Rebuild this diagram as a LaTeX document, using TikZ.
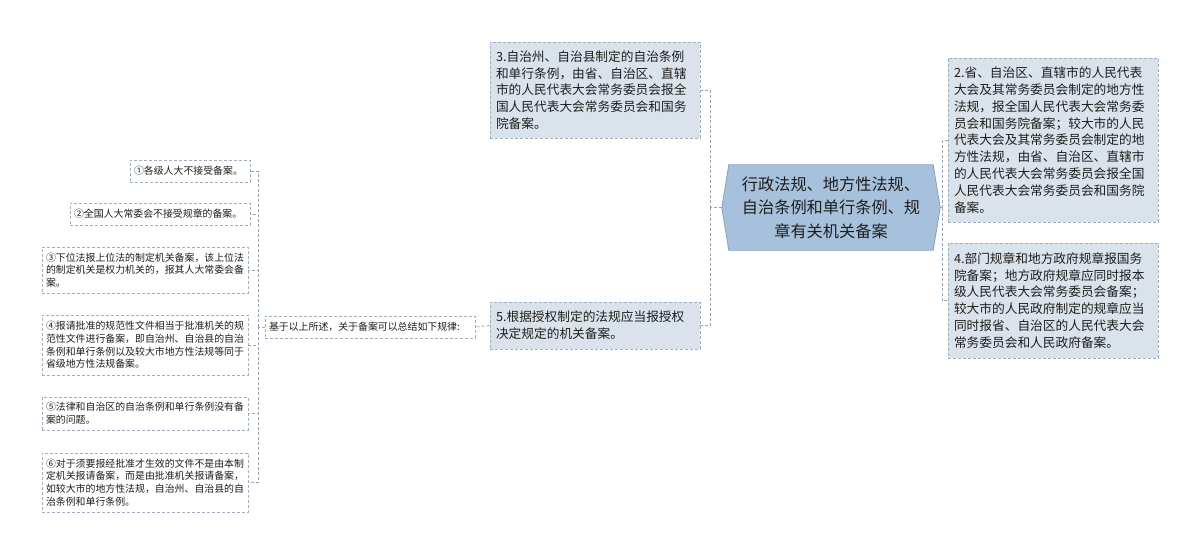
\documentclass[tikz,border=0pt]{standalone}
\usepackage{fontspec}
\setmainfont{Noto Sans CJK SC}
\usetikzlibrary{backgrounds}
\definecolor{rootfill}{RGB}{167,193,221}
\definecolor{rootdraw}{RGB}{130,160,196}
\definecolor{boxfill}{RGB}{218,227,235}
\definecolor{boxdraw}{RGB}{160,176,190}
\definecolor{linec}{RGB}{150,166,180}
\definecolor{txt}{RGB}{30,30,30}
\tikzset{
  x=1pt, y=-1pt,
  bigbox/.style={draw=boxdraw, fill=boxfill, dash pattern=on 3pt off 2pt, line width=0.8pt,
    align=left, inner xsep=6pt, inner ysep=4pt, text=txt,
    font=\fontsize{12.7}{16.8}\selectfont, anchor=center},
  leafbox/.style={draw=boxdraw, fill=white, dash pattern=on 3pt off 2pt, line width=0.8pt,
    align=left, inner xsep=4pt, inner ysep=3pt, text=txt,
    font=\fontsize{9.9}{12.8}\selectfont, anchor=center},
  conn/.style={draw=linec, line width=0.8pt, dash pattern=on 3pt off 2pt},
}
\begin{document}
\begin{tikzpicture}
\useasboundingbox (0,0) rectangle (1200,555);

% root
\node[minimum width=218pt, minimum height=85pt, align=center, text=txt,
  font=\fontsize{16.2}{23.5}\selectfont] (root) at (831,207.5)
  {行政法规、地方性法规、\\自治条例和单行条例、规\\章有关机关备案};
\begin{scope}[on background layer]
\fill[white] (0,0) rectangle (1200,555);
\path[fill=rootfill, draw=rootdraw, line width=0.8pt]
  ([xshift=7pt]root.north west) -- ([xshift=-7pt]root.north east) -- (root.east)
  -- ([xshift=-7pt]root.south east) -- ([xshift=7pt]root.south west) -- (root.west) -- cycle;
\end{scope}

% level-1 nodes
\node[bigbox, text width=198pt, minimum height=96pt] (n3) at (595,90)
  {3.自治州、自治县制定的自治条例\\和单行条例，由省、自治区、直辖\\市的人民代表大会常务委员会报全\\国人民代表大会常务委员会和国务\\院备案。};
\node[bigbox, text width=198pt, minimum height=47pt] (n5) at (595,325.5)
  {5.根据授权制定的法规应当报授权\\决定规定的机关备案。};
\node[bigbox, text width=198pt, minimum height=164pt] (n2) at (1053,140)
  {2.省、自治区、直辖市的人民代表\\大会及其常务委员会制定的地方性\\法规，报全国人民代表大会常务委\\员会和国务院备案；较大市的人民\\代表大会及其常务委员会制定的地\\方性法规，由省、自治区、直辖市\\的人民代表大会常务委员会报全国\\人民代表大会常务委员会和国务院\\备案。};
\node[bigbox, text width=198pt, minimum height=115pt] (n4) at (1053,300.5)
  {4.部门规章和地方政府规章报国务\\院备案；地方政府规章应同时报本\\级人民代表大会常务委员会备案；\\较大市的人民政府制定的规章应当\\同时报省、自治区的人民代表大会\\常务委员会和人民政府备案。};

% summary node
\node[leafbox, text width=202pt, minimum height=22pt] (sum) at (370,327)
  {基于以上所述，关于备案可以总结如下规律:};

% leaves
\node[leafbox, text width=112pt, minimum height=22pt] (l1) at (190,171)
  {①各级人大不接受备案。};
\node[leafbox, text width=172pt, minimum height=22pt] (l2) at (160,214)
  {②全国人大常委会不接受规章的备案。};
\node[leafbox, text width=198pt, minimum height=46pt] (l3) at (145,270)
  {③下位法报上位法的制定机关备案，该上位法\\的制定机关是权力机关的，报其人大常委会备\\案。};
\node[leafbox, text width=198pt, minimum height=60pt] (l4) at (145,345)
  {④报请批准的规范性文件相当于批准机关的规\\范性文件进行备案，即自治州、自治县的自治\\条例和单行条例以及较大市地方性法规等同于\\省级地方性法规备案。};
\node[leafbox, text width=198pt, minimum height=33pt] (l5) at (145,413.5)
  {⑤法律和自治区的自治条例和单行条例没有备\\案的问题。};
\node[leafbox, text width=198pt, minimum height=59pt] (l6) at (145,482.5)
  {⑥对于须要报经批准才生效的文件不是由本制\\定机关报请备案，而是由批准机关报请备案，\\如较大市的地方性法规，自治州、自治县的自\\治条例和单行条例。};

% connectors
\coordinate (jl) at (710,207.5);
\coordinate (jr) at (942,207.5);
\coordinate (js) at (258,327);
\path[conn] (root.west) -- (jl);
\path[conn] (jl) |- (n3.east);
\path[conn] (jl) |- (n5.east);
\path[conn] (root.east) -- (jr);
\path[conn] (jr) |- (n2.west);
\path[conn] (jr) |- (n4.west);
\path[conn] (n5.west) -- (sum.east);
\path[conn] (sum.west) -- (js);
\foreach \l in {l1,l2,l3,l4,l5,l6} {
  \path[conn] (js) |- (\l.east);
}
\end{tikzpicture}
\end{document}
